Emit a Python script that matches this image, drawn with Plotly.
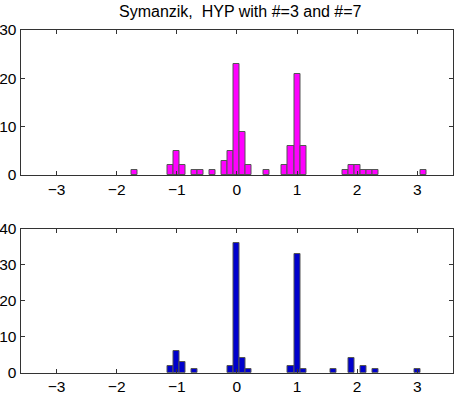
import plotly.graph_objects as go

# Bin centres (bin width 0.1) and counts
top_centers = [-1.7, -1.1, -1.0, -0.9, -0.7, -0.6, -0.4, -0.2, -0.1, 0.0, 0.1, 0.2, 0.5,
               0.8, 0.9, 1.0, 1.1, 1.8, 1.9, 2.0, 2.1, 2.2, 2.3, 3.1]
top_counts = [1, 2, 5, 2, 1, 1, 1, 3, 5, 23, 9, 2, 1,
              2, 6, 21, 6, 1, 2, 2, 1, 1, 1, 1]

bottom_centers = [-1.1, -1.0, -0.9, -0.7, -0.1, 0.0, 0.1, 0.2,
                  0.9, 1.0, 1.1, 1.6, 1.9, 2.1, 2.3, 3.0]
bottom_counts = [2, 6, 3, 1, 2, 36, 4, 1,
                 2, 33, 1, 1, 4, 2, 1, 1]

bin_width = 0.1
x_ticks = [-3, -2, -1, 0, 1, 2, 3]
top_yticks = [0, 10, 20, 30]
bottom_yticks = [0, 10, 20, 30, 40]
title = "Symanzik,  HYP with #=3 and #=7"

fig = go.Figure()
fig.add_trace(go.Bar(x=top_centers, y=top_counts, width=bin_width,
                     marker=dict(color="#ff00ff", line=dict(color="#555555", width=1)),
                     xaxis="x", yaxis="y", showlegend=False))
fig.add_trace(go.Bar(x=bottom_centers, y=bottom_counts, width=bin_width,
                     marker=dict(color="#0000cc", line=dict(color="#555555", width=1)),
                     xaxis="x2", yaxis="y2", showlegend=False))

tick_font = dict(family="Liberation Sans, Arial, sans-serif", size=15.5, color="black")
title_font = dict(family="Liberation Sans, Arial, sans-serif", size=16, color="black")
xdom = [20.5 / 458, 453.3 / 458]
common_x = dict(range=[-3.6, 3.6], tickvals=x_ticks,
                ticktext=["\u2212" + str(-v) if v < 0 else str(v) for v in x_ticks],
                ticks="inside", ticklen=4, tickcolor="#333", mirror="ticks", showline=True,
                linecolor="#333", linewidth=1, showgrid=False, zeroline=False,
                tickfont=tick_font, domain=xdom, automargin=False)
common_y = dict(ticks="inside", ticklen=4, tickcolor="#333", mirror="ticks", showline=True,
                linecolor="#333", linewidth=1, showgrid=False, zeroline=False,
                tickfont=tick_font, automargin=False, ticklabelstandoff=0)

fig.update_layout(
    width=458, height=394,
    margin=dict(l=0, r=0, t=0, b=0, autoexpand=False),
    plot_bgcolor="white", paper_bgcolor="white",
    bargap=0,
    xaxis=dict(common_x, anchor="y"),
    yaxis=dict(common_y, range=[0, 30], tickvals=top_yticks, anchor="x",
               domain=[1 - 175 / 394, 1 - 30 / 394]),
    xaxis2=dict(common_x, anchor="y2"),
    yaxis2=dict(common_y, range=[0, 40], tickvals=bottom_yticks, anchor="x2",
                domain=[1 - 372.7 / 394, 1 - 229 / 394]),
    annotations=[dict(text=title, x=240 / 458, y=1 - 11 / 394, xref="paper", yref="paper",
                      showarrow=False, font=title_font, xanchor="center", yanchor="middle")],
)

fig.write_html("out.html", config={"displayModeBar": False},
               post_script="document.body.style.margin='0';document.body.style.padding='0';")
